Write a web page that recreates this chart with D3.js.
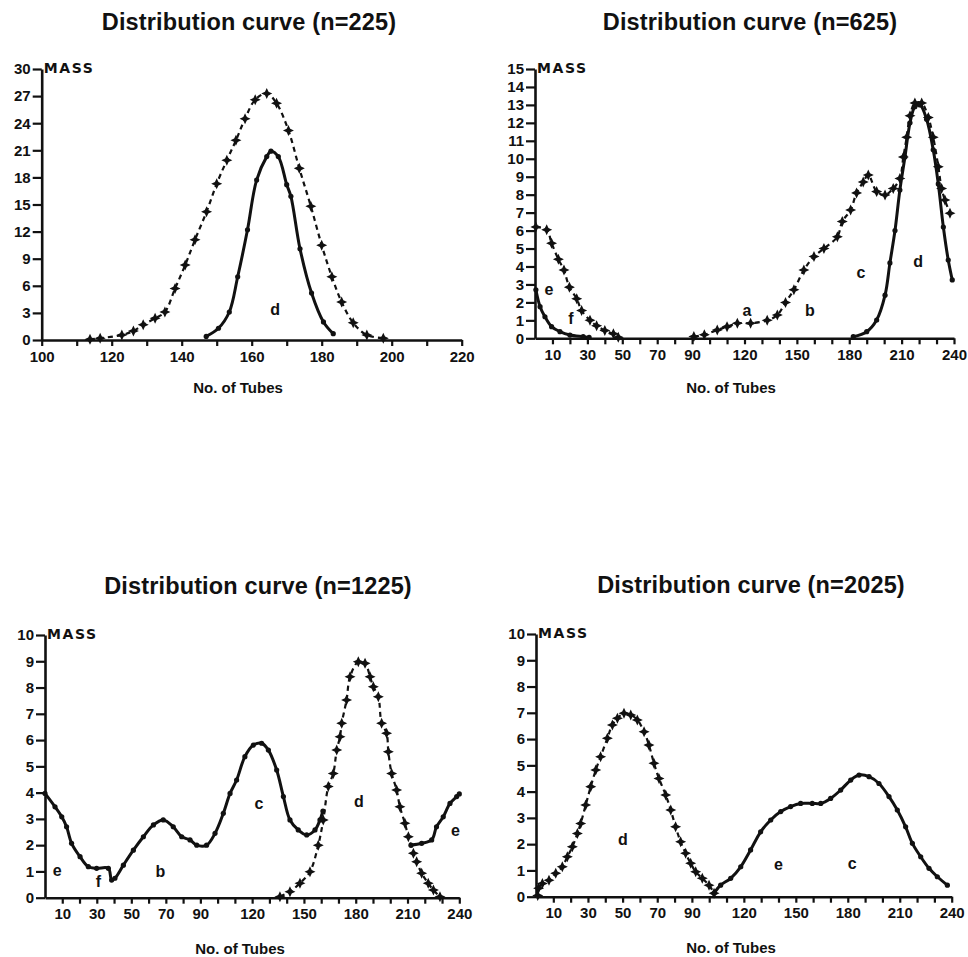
<!DOCTYPE html>
<html>
<head>
<meta charset="utf-8">
<script src="https://cdn.jsdelivr.net/npm/d3@7"></script>
<style>
  body { margin: 0; background: #fff; }
  text { font-family: "Liberation Sans", Arial, sans-serif; fill: #111; }
</style>
</head>
<body>
<div id="chart"></div>
<script>
// ---- data: [tube number, mass] ----
var p1Solid = [[147,0.4],[150.5,1.3],[153.6,3.1],[156,7],[158.8,12.2],[161.4,17.7],[164.3,20.3],[165.5,20.9],
  [167.6,20.3],[170,17.2],[171.2,15.9],[173.8,10.1],[177.1,5.2],[180.5,2.0],[183.3,0.7]];
var p1Dashed = [[113.8,0.07],[116.7,0.2],[122.9,0.55],[126.2,1.0],[129,1.7],[132.4,2.4],[135.2,3.1],[138.1,5.7],
  [141,8.3],[143.8,11.1],[147.1,14.2],[150,17.3],[152.9,19.9],[155.5,22.1],[158.1,24.5],[161,26.6],[164.3,27.3],
  [167.1,26.2],[170.5,23.2],[173.6,19],[176.9,14.8],[180,10.5],[182.9,7],[185.7,4.2],[189,1.9],[192.9,0.55],[197.6,0.2]];

var p2SolidE = [[0.5,2.7],[2.9,1.76],[5.7,1.2],[9.5,0.65],[14.3,0.37],[20,0.18],[27.6,0.09],[31,0.05]];
var p2DashedF = [[0.5,6.2],[6.7,6.05],[9.5,5.3],[13.4,4.4],[16.6,3.8],[19.7,2.85],[23.9,2.2],[26.7,1.55],
  [31.5,1.0],[35.3,0.7],[40,0.43],[44.9,0.25],[47.7,0.06]];
var p2DashedABC = [[91,0.1],[97,0.2],[104.4,0.46],[110,0.65],[115.9,0.84],[123.5,0.84],[133,1.0],[138.8,1.3],
  [143.5,2.0],[148.3,2.7],[154,3.8],[159.8,4.55],[165.5,5.0],[173.2,5.66],[176,6.5],[180.8,7.15],[184.2,8.1],
  [188,8.7],[190.9,9.1],[195.7,8.17],[200.5,7.98],[205.2,8.35],[209,8.9],[211,10.1],[212.9,11.2],[214.8,12.4],
  [217.6,13.1],[221.5,13.1],[225.3,12.3],[228.1,11.2],[231,9.56],[232.9,8.35],[234.8,7.7],[237.7,6.96]];
var p2SolidD = [[182.3,0.09],[190,0.37],[195.7,1.02],[200.5,2.4],[203.3,4.2],[206.2,6.0],[209,8.26],[211.9,10.1],
  [214.8,12.0],[217.6,12.9],[220.5,13.0],[224.3,12.2],[228.1,10.5],[231,8.6],[233.9,6.2],[236.7,4.36],[239,3.25]];

var p3SolidLeft = [[0,3.97],[5.8,3.46],[9.7,3.08],[12.5,2.7],[15.4,2.07],[20.3,1.56],[25.1,1.18],[29.9,1.12],
  [36.7,1.12],[38.6,0.67],[40.5,0.74],[45.4,1.24],[51.2,1.81],[57,2.32],[62.8,2.77],[68.5,2.96],[74.3,2.7],
  [79.2,2.32],[84,2.2],[87.9,2.0],[93.6,2.0],[98.5,2.45],[103.3,3.21],[107.2,3.97],[111,4.48],[115.8,5.37],
  [120.7,5.81],[125.5,5.88],[129.4,5.62],[134.2,4.86],[138.1,3.85],[141.9,2.96],[146.7,2.58],[151.6,2.39],
  [156.4,2.58],[159.3,2.96],[161,3.3]];
var p3SolidRight = [[212,2.0],[218.2,2.07],[224,2.2],[226.8,2.7],[230.7,3.08],[234.6,3.59],[238.5,3.85],[240,3.95]];
var p3DashedD = [[136.1,0.04],[141.9,0.23],[147.7,0.55],[153.5,0.99],[158.3,2.0],[161.2,2.96],[164.1,4.23],
  [167,4.73],[169,5.62],[170.9,6.13],[171.9,6.64],[174.7,7.53],[176.7,8.41],[181.5,8.98],[185.4,8.92],
  [188.3,8.41],[190.2,8.03],[193.1,7.65],[195,6.64],[197.9,6.26],[198.9,5.56],[200.8,4.73],[203.7,4.1],
  [205.6,3.46],[208.5,2.83],[210.5,2.32],[213.4,1.69],[215.3,1.37],[218.2,0.93],[222,0.55],[225,0.29],[228.8,0.04]];

var p4DashedD = [[1,0.05],[1.5,0.32],[3.7,0.5],[7.5,0.63],[11.4,0.89],[15.2,1.14],[18.1,1.52],[21,1.9],[23.9,2.41],
  [25.8,2.79],[28.7,3.49],[31.6,4.19],[34.5,4.82],[37.3,5.33],[41.2,6.03],[44.1,6.54],[47,6.79],[50.8,6.98],
  [54.7,6.92],[58.5,6.73],[62.4,6.28],[65.2,5.77],[68.1,5.08],[71,4.5],[74.9,3.87],[77.8,3.3],[80.6,2.66],
  [83.5,2.09],[86.4,1.65],[89.3,1.27],[92.2,0.95],[96,0.7],[99.9,0.44],[102.8,0.13]];
var p4Solid = [[102.8,0.13],[106.6,0.44],[112.4,0.7],[118.2,1.14],[123.9,1.78],[129.7,2.47],[135.5,2.92],
  [141.3,3.24],[147,3.43],[152.8,3.55],[159.5,3.55],[164.4,3.55],[170.1,3.74],[175.9,4.06],[181.7,4.44],
  [186.5,4.63],[192.3,4.57],[198,4.31],[203.8,3.81],[208.6,3.3],[213.4,2.66],[217.3,2.03],[222.1,1.52],
  [226.9,1.08],[231.7,0.76],[237.5,0.44]];

// curve letters, placed in data units
var p1Letters = [["d",166.7,2.77]];
var p2Letters = [["e",8,2.4],["f",20.6,0.8],["a",121.4,1.24],["b",157.5,1.24],["c",186.7,3.34],["d",219.4,3.96]];
var p3Letters = [["e",7,0.83],["f",30.9,0.42],["b",66.8,0.8],["c",124,3.36],["d",181.9,3.46],["e",237.8,2.35]];
var p4Letters = [["d",50.2,1.97],["e",140,1.02],["c",182.6,1.04]];

// tick labels
var p1XLabels = [100,120,140,160,180,200,220];
var tubeLabels = [10,30,50,70,90,120,150,180,210,240];
var p1YTicks = d3.range(0,31,3);
var p2YTicks = d3.range(0,16,1);
var tenYTicks = d3.range(0,11,1);

var panels = [
  {title:"Distribution curve (n=225)", tx:249, ty:30, xd:[100,220], xr:[41.7,461.7], yd:[0,30], yr:[340,69],
   xTicks:d3.range(100,221,10), xLabels:p1XLabels, yTicks:p1YTicks,
   solid:[p1Solid], dashed:[p1Dashed], letters:p1Letters, xt:[238,393]},
  {title:"Distribution curve (n=625)", tx:750, ty:30, xd:[0,240], xr:[535,954], yd:[0,15], yr:[338.3,69],
   xTicks:d3.range(10,241,10), xLabels:tubeLabels, yTicks:p2YTicks,
   solid:[p2SolidE,p2SolidD], dashed:[p2DashedF,p2DashedABC], letters:p2Letters, xt:[731,393]},
  {title:"Distribution curve (n=1225)", tx:258, ty:594, xd:[0,240], xr:[45,459.3], yd:[0,10], yr:[897.7,635],
   xTicks:d3.range(10,241,10), xLabels:tubeLabels, yTicks:tenYTicks,
   solid:[p3SolidLeft,p3SolidRight], dashed:[p3DashedD], letters:p3Letters, xt:[240,954]},
  {title:"Distribution curve (n=2025)", tx:751, ty:593, xd:[0,240], xr:[536,951.7], yd:[0,10], yr:[896.7,634],
   xTicks:d3.range(10,241,10), xLabels:tubeLabels, yTicks:tenYTicks,
   solid:[p4Solid], dashed:[p4DashedD], letters:p4Letters, xt:[731,953]}
];

var svg = d3.select("#chart").append("svg").attr("width", 968).attr("height", 957);

// four-point star used for the dashed curves
function star(s) {
  var a = s * 0.32;
  return "M0," + (-s) + "L" + a + "," + (-a) + "L" + s + ",0L" + a + "," + a + "L0," + s +
         "L" + (-a) + "," + a + "L" + (-s) + ",0L" + (-a) + "," + (-a) + "Z";
}

panels.forEach(function (p) {
  var x = d3.scaleLinear().domain(p.xd).range(p.xr);
  var y = d3.scaleLinear().domain(p.yd).range(p.yr);
  var g = svg.append("g");

  // title
  g.append("text").attr("x", p.tx).attr("y", p.ty).attr("text-anchor", "middle")
    .style("font-size", "23.5px").style("font-weight", "bold").style("letter-spacing", "0.15px")
    .text(p.title);

  // x axis
  var xa = g.append("g").attr("transform", "translate(0," + p.yr[0] + ")")
    .call(d3.axisBottom(x).tickValues(p.xTicks).tickSize(6).tickSizeOuter(0).tickPadding(5)
      .tickFormat(function (d) { return p.xLabels.indexOf(d) >= 0 ? d : ""; }));
  // y axis
  var ya = g.append("g").attr("transform", "translate(" + p.xr[0] + ",0)")
    .call(d3.axisLeft(y).tickValues(p.yTicks).tickSize(9).tickSizeOuter(0).tickPadding(2));

  [xa, ya].forEach(function (a) {
    a.select(".domain").attr("stroke", "#111").attr("stroke-width", 2.6);
    a.selectAll(".tick line").attr("stroke", "#111").attr("stroke-width", 2.2);
    a.selectAll("text").style("font-size", "15px").style("font-weight", "bold")
      .style("font-family", "'Liberation Sans', Arial, sans-serif").attr("fill", "#111");
  });

  g.append("text").attr("x", p.xr[0] + 2).attr("y", p.yr[1] + 4)
    .style("font-family", "'DejaVu Sans', sans-serif").style("letter-spacing", "1.6px")
    .style("font-size", "14px").style("font-weight", "bold").text("MASS");

  g.append("text").attr("x", p.xt[0]).attr("y", p.xt[1]).attr("text-anchor", "middle")
    .style("font-size", "15px").style("font-weight", "bold").text("No. of Tubes");

  var line = d3.line().x(function (d) { return x(d[0]); }).y(function (d) { return y(d[1]); })
    .curve(d3.curveCatmullRom.alpha(0.5));

  p.dashed.forEach(function (s) {
    g.append("path").datum(s).attr("d", line).attr("fill", "none").attr("stroke", "#111")
      .attr("stroke-width", 2.2).attr("stroke-dasharray", "5,4");
    g.selectAll(null).data(s).enter().append("path")
      .attr("transform", function (d) { return "translate(" + x(d[0]) + "," + y(d[1]) + ")"; })
      .attr("d", star(5.5)).attr("fill", "#111");
  });

  p.solid.forEach(function (s) {
    g.append("path").datum(s).attr("d", line).attr("fill", "none").attr("stroke", "#111")
      .attr("stroke-width", 3);
    g.selectAll(null).data(s).enter().append("circle")
      .attr("cx", function (d) { return x(d[0]); }).attr("cy", function (d) { return y(d[1]); })
      .attr("r", 2.6).attr("fill", "#111");
  });

  g.selectAll(null).data(p.letters).enter().append("text")
    .attr("x", function (d) { return x(d[1]); }).attr("y", function (d) { return y(d[2]); })
    .attr("text-anchor", "middle").style("font-size", "16px").style("font-weight", "bold")
    .text(function (d) { return d[0]; });
});
</script>
</body>
</html>
